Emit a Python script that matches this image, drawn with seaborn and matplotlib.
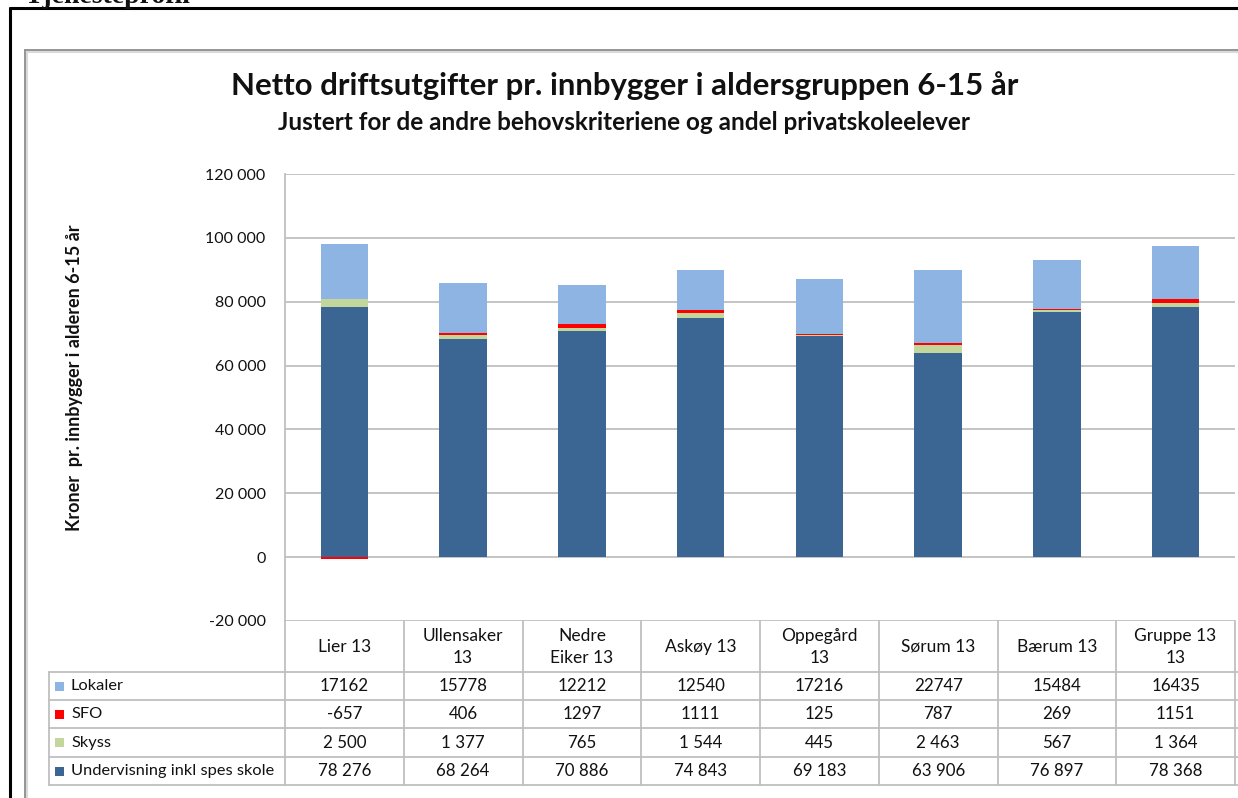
import numpy as np
import matplotlib
matplotlib.use("Agg")
import matplotlib.pyplot as plt
import matplotlib.ticker as mticker
import matplotlib.transforms as mtransforms
from matplotlib.lines import Line2D
from matplotlib.patches import Rectangle
import seaborn as sns

# DATA
categories = ["Lier 13", "Ullensaker 13", "Nedre Eiker 13", "Askøy 13",
              "Oppegård 13", "Sørum 13", "Bærum 13", "Gruppe 13 13"]
header_labels = ["Lier 13", "Ullensaker\n13", "Nedre\nEiker 13", "Askøy 13",
                 "Oppegård\n13", "Sørum 13", "Bærum 13", "Gruppe 13\n13"]
undervisning = [78276, 68264, 70886, 74843, 69183, 63906, 76897, 78368]
skyss = [2500, 1377, 765, 1544, 445, 2463, 567, 1364]
sfo = [-657, 406, 1297, 1111, 125, 787, 269, 1151]
lokaler = [17162, 15778, 12212, 12540, 17216, 22747, 15484, 16435]
y_ticks = [-20000, 0, 20000, 40000, 60000, 80000, 100000, 120000]

TITLE = "Netto driftsutgifter pr. innbygger i aldersgruppen 6-15 år"
SUBTITLE = "Justert for de andre behovskriteriene og andel privatskoleelever"
YLABEL = "Kroner  pr. innbygger i alderen 6-15 år"

COLORS = {
    "Undervisning inkl spes skole": "#3B6593",
    "Skyss": "#C3D69B",
    "SFO": "#FF0000",
    "Lokaler": "#8EB4E3",
}
# stacking order, bottom to top
stack = [("Undervisning inkl spes skole", undervisning),
         ("Skyss", skyss), ("SFO", sfo), ("Lokaler", lokaler)]
# table rows, top to bottom (value grouping as in the source sheet)
table_rows = [("Lokaler", lokaler, False), ("SFO", sfo, False),
              ("Skyss", skyss, True), ("Undervisning inkl spes skole", undervisning, True)]

GRID = "#BFBFBF"
W, H = 1238, 798


def fx(x):
    return x / W


def fy(y):
    return 1 - y / H


sns.set_style("white")
plt.rcParams["font.family"] = ["Lato", "DejaVu Sans"]
plt.rcParams["text.color"] = "#111111"

fig = plt.figure(figsize=(W / 100, H / 100), dpi=100)
ax = fig.add_axes([fx(285), fy(621), fx(1235) - fx(285), fy(174) - fy(621)])

pos_base = np.zeros(len(categories))
neg_base = np.zeros(len(categories))
for name, vals in stack:
    vals = np.array(vals, dtype=float)
    bottom = np.where(vals >= 0, pos_base, neg_base)
    sns.barplot(x=categories, y=vals, bottom=bottom, color=COLORS[name],
                saturation=1, width=0.4, linewidth=0, errorbar=None, ax=ax)
    pos_base += np.clip(vals, 0, None)
    neg_base += np.clip(vals, None, 0)

ax.set_xlim(-0.5, len(categories) - 0.5)
ax.set_ylim(-20000, 120000)
ax.set_yticks(y_ticks)
ax.yaxis.set_major_formatter(mticker.FuncFormatter(lambda v, p: f"{v:,.0f}".replace(",", " ")))
ax.set_xticks([])
ax.set_xlabel("")
ax.set_ylabel("")
ax.yaxis.grid(True, color=GRID, linewidth=1.3)
ax.set_axisbelow(True)
for s in ["top", "right", "bottom"]:
    ax.spines[s].set_visible(False)
ax.spines["left"].set_color(GRID)
ax.spines["left"].set_linewidth(1.3)
ax.tick_params(axis="y", length=8, width=1.3, color=GRID, labelsize=11.5, pad=6,
               labelcolor="#111111", direction="out")

# data table under the plot
trans = mtransforms.blended_transform_factory(ax.transData, fig.transFigure)
n = len(categories)
row_y = [672, 700, 728, 757, 785]

for y in row_y:
    fig.add_artist(Line2D([fx(49), 1], [fy(y), fy(y)], color=GRID, lw=1.3))
fig.add_artist(Line2D([fx(49), fx(49)], [fy(672), fy(785)], color=GRID, lw=1.3))
for i in range(n + 1):
    fig.add_artist(Line2D([i - 0.5, i - 0.5], [fy(621), fy(785)], transform=trans,
                          color=GRID, lw=1.3))

for i, lab in enumerate(header_labels):
    fig.text(i, fy(647), lab, transform=trans, ha="center", va="center",
             fontsize=12.5, linespacing=1.4)

for r, (name, vals, grouped) in enumerate(table_rows):
    yc = (row_y[r] + row_y[r + 1]) / 2
    fig.add_artist(Rectangle((fx(55), fy(yc + 4.5)), fx(9), 9 / H,
                             color=COLORS[name], lw=0))
    fig.text(fx(71), fy(yc), name, ha="left", va="center", fontsize=11.8)
    for i, v in enumerate(vals):
        txt = f"{v:,}".replace(",", " ") if grouped else str(v)
        fig.text(i, fy(yc), txt, transform=trans, ha="center", va="center", fontsize=12.2)

# titles and axis label
fig.text(fx(625), fy(86), TITLE, ha="center", va="center", fontsize=22.4, fontweight="bold")
fig.text(fx(624), fy(123), SUBTITLE, ha="center", va="center", fontsize=17.5, fontweight="bold")
fig.text(fx(75), fy(378), YLABEL, rotation=90, ha="center", va="center",
         fontsize=13, fontweight="bold")

# page header (cut off at the top) and frames
fig.text(fx(25), fy(3), "Tjenesteprofil", ha="left", va="baseline", fontsize=20,
         fontweight="bold", family=["Liberation Serif", "DejaVu Serif"])
fig.add_artist(Line2D([fx(10), 1], [fy(8), fy(8)], color="black", lw=2.2))
fig.add_artist(Line2D([fx(10), fx(10)], [fy(8), 0], color="black", lw=2.2))
fig.add_artist(Line2D([fx(27), 1], [fy(52), fy(52)], color="#D9D9D9", lw=1.5))
fig.add_artist(Line2D([fx(27), fx(27)], [fy(52), 0], color="#D9D9D9", lw=1.5))
fig.add_artist(Line2D([fx(25), 1], [fy(50), fy(50)], color="#8C8C8C", lw=1.3))
fig.add_artist(Line2D([fx(25), fx(25)], [fy(50), 0], color="#8C8C8C", lw=1.3))

fig.savefig("out.png", dpi=100)
